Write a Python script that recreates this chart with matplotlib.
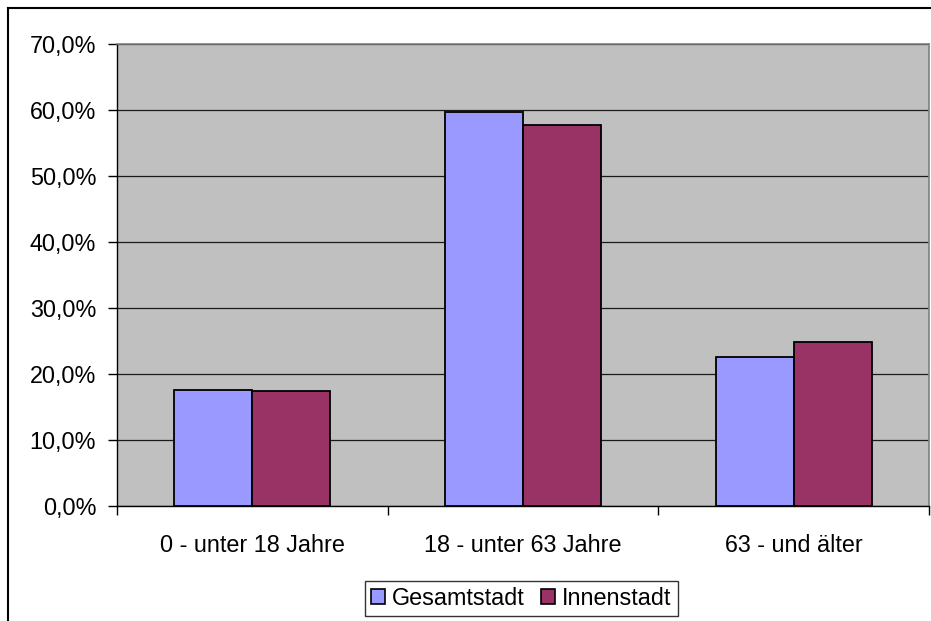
import matplotlib
matplotlib.use("Agg")
import matplotlib.pyplot as plt
from matplotlib.lines import Line2D
from matplotlib.patches import Patch
from matplotlib.ticker import FuncFormatter, MultipleLocator
import numpy as np

categories = ["0 - unter 18 Jahre", "18 - unter 63 Jahre", "63 - und älter"]
series_names = ["Gesamtstadt", "Innenstadt"]
gesamtstadt = [17.6, 59.6, 22.6]
innenstadt = [17.4, 57.6, 24.8]
colors = ["#9999FF", "#993366"]

plt.rcParams["font.family"] = ["Liberation Sans", "DejaVu Sans"]
FS = 16.8

W, H = 931, 621
fig = plt.figure(figsize=(W / 100, H / 100), dpi=100)
fig.patch.set_facecolor("white")

# outer chart frame (top and left edges)
fx, fy = 7.5 / W, 1 - 8 / H
fig.add_artist(Line2D([fx, 1.0], [fy, fy], transform=fig.transFigure,
                      color="black", linewidth=1.5))
fig.add_artist(Line2D([fx, fx], [0.0, fy], transform=fig.transFigure,
                      color="black", linewidth=1.5))

left, right, top, bottom = 117, 929, 43.5, 506
ax = fig.add_axes([left / W, (H - bottom) / H, (right - left) / W, (bottom - top) / H])
ax.set_facecolor("#C0C0C0")

x = np.arange(len(categories))
bw = 0.288
for i, (vals, c) in enumerate(zip([gesamtstadt, innenstadt], colors)):
    ax.bar(x + (i - 0.5) * bw, vals, width=bw, color=c, edgecolor="black",
           linewidth=1.3, zorder=3, label=series_names[i])

ax.set_xlim(-0.5, len(categories) - 0.5)
ax.set_ylim(0, 70)
ax.yaxis.set_major_locator(MultipleLocator(10))
ax.yaxis.set_major_formatter(FuncFormatter(lambda v, p: f"{v:.1f}%".replace(".", ",")))
ax.grid(axis="y", color="#1a1a1a", linewidth=0.9, zorder=1)
ax.set_axisbelow(True)

ax.set_xticks(np.arange(-0.5, len(categories), 1.0))
ax.set_xticklabels([])
ax.set_xticks(x, minor=True)
ax.set_xticklabels(categories, minor=True, fontsize=FS)
ax.tick_params(axis="x", which="major", length=6.5, width=1, direction="out", color="black")
ax.tick_params(axis="x", which="minor", length=0, pad=20)
ax.tick_params(axis="y", length=6.5, width=1, direction="out", labelsize=FS, pad=8.5)

for s in ["top", "right"]:
    ax.spines[s].set_color("#808080")
    ax.spines[s].set_linewidth(1.2)
for s in ["left", "bottom"]:
    ax.spines[s].set_color("black")
    ax.spines[s].set_linewidth(1)

handles = [Patch(facecolor=c, edgecolor="black", linewidth=1.2) for c in colors]
leg = fig.legend(handles, series_names, loc="center",
                 bbox_to_anchor=(521.5 / W, (H - 598.5) / H),
                 ncol=2, fontsize=FS, frameon=True, fancybox=False,
                 handlelength=0.6, handleheight=0.6, handletextpad=0.3,
                 columnspacing=0.7, borderpad=0.25, borderaxespad=0)
leg.get_frame().set_edgecolor("black")
leg.get_frame().set_linewidth(1)

fig.savefig("out.png", dpi=100)
